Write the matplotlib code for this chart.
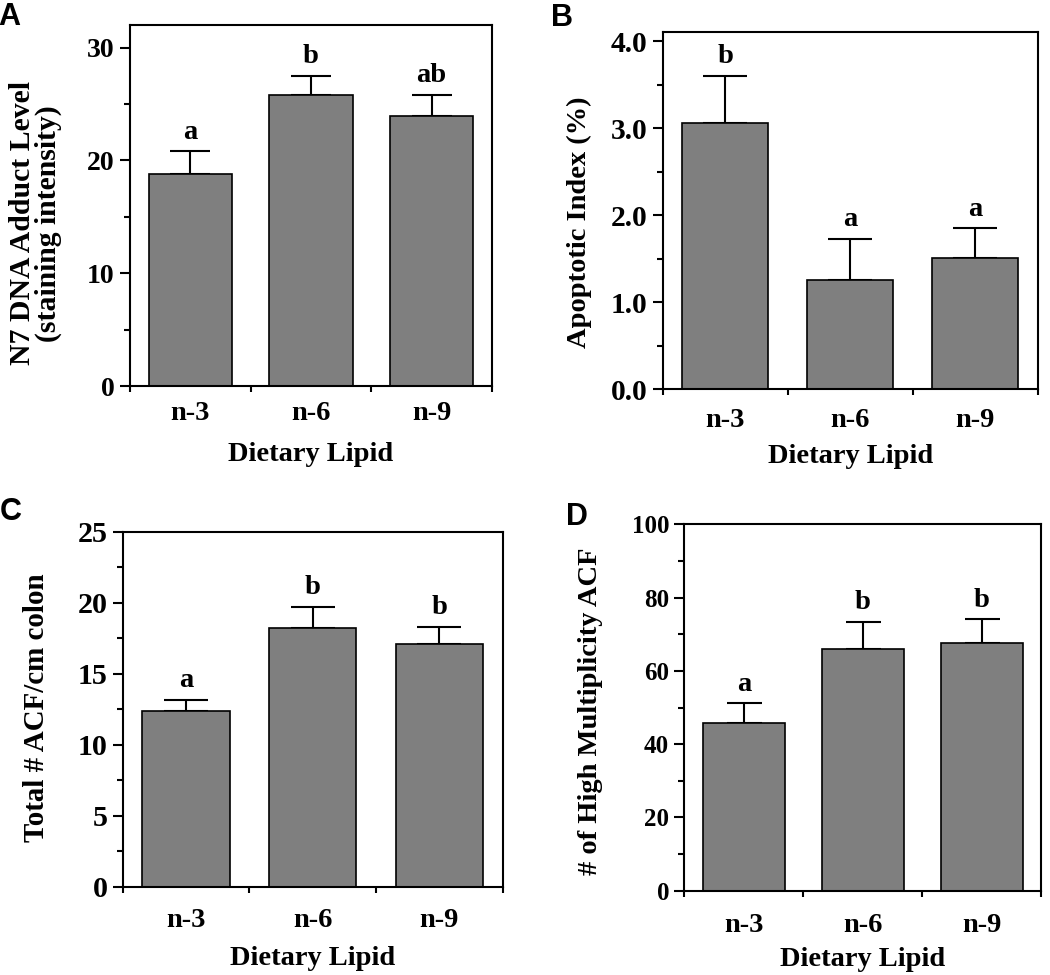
import numpy as np
import matplotlib
matplotlib.use("Agg")
import matplotlib.pyplot as plt

# diet groups
categories = ["n-3", "n-6", "n-9"]

# A: N7 DNA adduct level
adduct_mean = [18.8, 25.8, 23.9]
adduct_sem = [2.0, 1.7, 1.9]
adduct_letters = ["a", "b", "ab"]

# B: apoptotic index (%)
apopt_mean = [3.06, 1.26, 1.51]
apopt_sem = [0.54, 0.47, 0.34]
apopt_letters = ["b", "a", "a"]

# C: total ACF per cm colon
acf_mean = [12.4, 18.2, 17.1]
acf_sem = [0.75, 1.5, 1.2]
acf_letters = ["a", "b", "b"]

# D: number of high multiplicity ACF
hm_mean = [45.9, 65.9, 67.6]
hm_sem = [5.3, 7.5, 6.5]
hm_letters = ["a", "b", "b"]

SERIF = "Liberation Serif"
SANS = "Liberation Sans"
BAR_COL = "#7f7f7f"
FS = 20.5

W, H = 1050, 975

# axes rect in px (left, top, right, bottom) plus per-panel text tweaks
PANELS = [
    dict(rect=(130, 25, 492, 386), ylim=32, major=10, minor=5, fmt="{:.0f}", ytfs=20,
         ylabel="N7 DNA Adduct Level\n(staining intensity)", ylfs=21.4, lab_xy=(-0.188, 0.451),
         xpad=10.5, lpad=11.5, cap=14.4, letter="A", let_xy=(-2, 2),
         mean=adduct_mean, sem=adduct_sem, letters=adduct_letters),
    dict(rect=(662.7, 32.3, 1037.7, 389.3), ylim=4.1, major=1.0, minor=0.5, fmt="{:.1f}", ytfs=21.3,
         ylabel="Apoptotic Index (%)", ylfs=20.5, lab_xy=(-0.189, 0.469),
         xpad=13.5, lpad=8.0, cap=15.8, letter="B", let_xy=(551, 3),
         mean=apopt_mean, sem=apopt_sem, letters=apopt_letters),
    dict(rect=(122.7, 531.7, 502.7, 886.7), ylim=25, major=5, minor=2.5, fmt="{:.0f}", ytfs=21.6,
         ylabel="Total # ACF/cm colon", ylfs=20.9, lab_xy=(-0.191, 0.503),
         xpad=15.0, lpad=10.0, cap=15.8, letter="C", let_xy=(0, 497),
         mean=acf_mean, sem=acf_sem, letters=acf_letters),
    dict(rect=(684.3, 524.3, 1041, 890.7), ylim=100, major=20, minor=10, fmt="{:.0f}", ytfs=18,
         ylabel="# of High Multiplicity ACF", ylfs=20.5, lab_xy=(-0.227, 0.489),
         xpad=15.8, lpad=7.0, cap=12.6, letter="D", let_xy=(566, 502),
         mean=hm_mean, sem=hm_sem, letters=hm_letters),
]

fig = plt.figure(figsize=(W / 100, H / 100), dpi=100, facecolor="white")

for p in PANELS:
    l, t, r, b = p["rect"]
    ax = fig.add_axes([l / W, (H - b) / H, (r - l) / W, (b - t) / H])
    x = np.arange(len(categories))

    # upper-only error bars, drawn under the bars
    ax.errorbar(x, p["mean"], yerr=[np.zeros(len(x)), p["sem"]], fmt="none",
                ecolor="black", elinewidth=1.5, capsize=p["cap"], capthick=1.5, zorder=1)
    ax.bar(x, p["mean"], width=0.69, color=BAR_COL, edgecolor="black",
           linewidth=1.2, zorder=2)

    for xi, m, s, lt in zip(x, p["mean"], p["sem"], p["letters"]):
        ax.annotate(lt, (xi, m + s), xytext=(0, 9), textcoords="offset points",
                    ha="center", va="baseline", fontsize=FS, fontweight="bold",
                    family=SERIF)

    ax.set_xlim(-0.5, 2.5)
    ax.set_ylim(0, p["ylim"])
    yt = np.arange(0, p["ylim"] + 1e-9, p["major"])
    ax.set_yticks(yt, [p["fmt"].format(v) for v in yt])
    ax.set_yticks(np.arange(0, p["ylim"] + 1e-9, p["minor"]), minor=True)
    ax.set_xticks(x, categories)
    ax.xaxis.set_ticks([-0.5, 0.5, 1.5, 2.5], minor=True)

    ax.tick_params(axis="y", which="major", direction="out", length=7, width=1.5,
                   pad=4, labelsize=p["ytfs"])
    ax.tick_params(axis="y", which="minor", direction="out", length=4, width=1.5)
    ax.tick_params(axis="x", which="major", length=0, pad=p["xpad"], labelsize=FS)
    ax.tick_params(axis="x", which="minor", direction="out", length=4.5, width=1.5)
    for lab in ax.get_xticklabels() + ax.get_yticklabels():
        lab.set_fontfamily(SERIF)
        lab.set_fontweight("bold")

    for sp in ax.spines.values():
        sp.set_linewidth(1.5)

    ax.set_ylabel(p["ylabel"], fontsize=p["ylfs"], fontweight="bold", family=SERIF,
                  linespacing=0.95)
    ax.yaxis.set_label_coords(*p["lab_xy"])
    ax.set_xlabel("Dietary Lipid", fontsize=FS, fontweight="bold", family=SERIF,
                  labelpad=p["lpad"])

    lx, ly = p["let_xy"]
    fig.text(lx / W, 1 - ly / H, p["letter"], fontsize=22, fontweight="bold",
             family=SANS, ha="left", va="top")

fig.savefig("out.png", dpi=100, facecolor="white")
